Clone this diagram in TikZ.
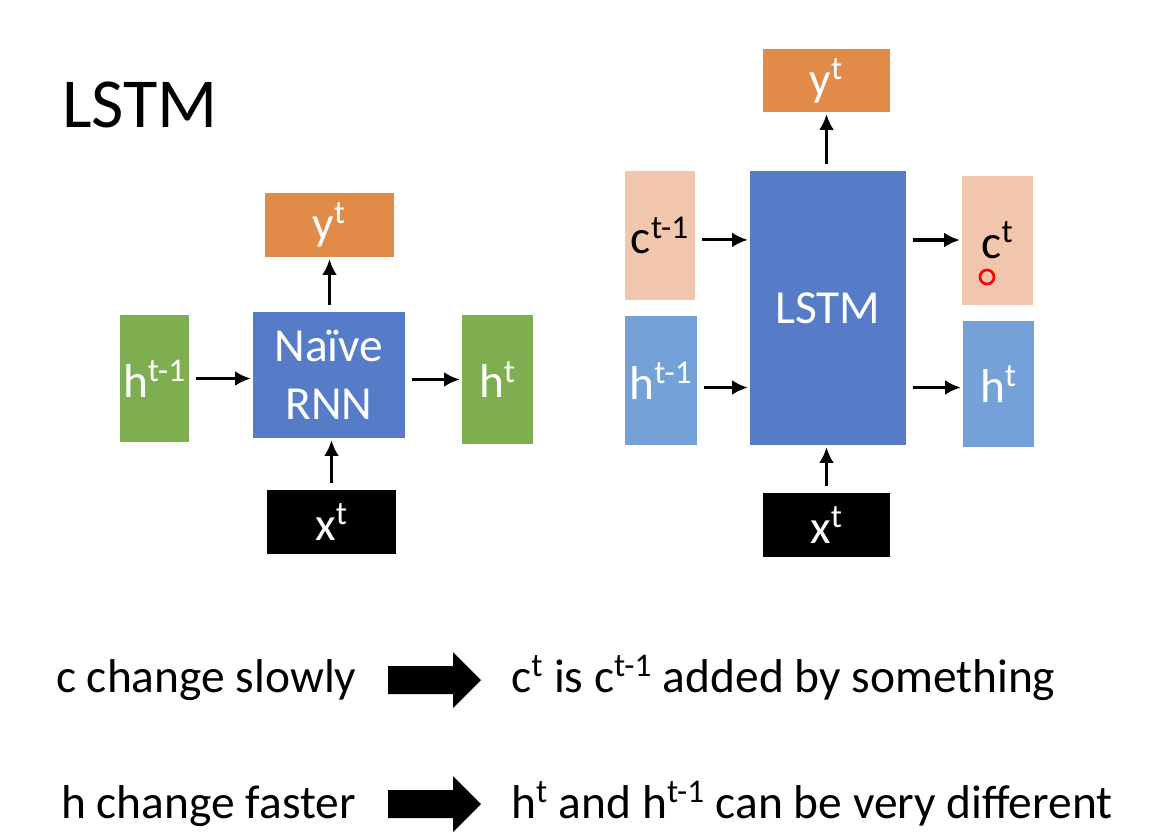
\documentclass[tikz,border=0pt]{standalone}
\usepackage{fontspec}
\setmainfont{Carlito}
\usepackage{tikz}
\usetikzlibrary{arrows.meta}

\definecolor{outorange}{RGB}{226,138,72}
\definecolor{cellblue}{RGB}{86,124,200}
\definecolor{hgreen}{RGB}{126,174,80}
\definecolor{cpeach}{RGB}{242,198,172}
\definecolor{hblue}{RGB}{116,162,216}

\newcommand{\sups}[1]{\textsuperscript{#1}}

\tikzset{
  box/.style={inner sep=0pt, align=center, text=white,
    font=\fontsize{27}{33}\selectfont},
  boxsize/.style 2 args={minimum width=#1*0.02cm, minimum height=#2*0.02cm},
  arr/.style={-{Latex[length=9pt,width=8.5pt]}, line width=1.8pt,
    shorten <=4pt, shorten >=1pt},
  says/.style={anchor=base west, font=\fontsize{27}{33}\selectfont},
  fat/.style={fill=black}
}

\begin{document}
\begin{tikzpicture}[x=0.02cm,y=-0.02cm]
\useasboundingbox (0,0) rectangle (1162,832);

\node[anchor=base west, font=\fontsize{40}{46}\selectfont] (title) at (56,127) {LSTM};

% naive rnn
\node[box, boxsize={129}{64}, fill=outorange] (yL) at (329.5,225) {y\sups{t}};
\node[box, boxsize={152}{126}, fill=cellblue] (rnn) at (329,375) {Naïve\\RNN};
\node[box, boxsize={69}{127}, fill=hgreen] (hpL) at (154.5,378.5) {h\sups{t-1}};
\node[box, boxsize={71}{129}, fill=hgreen] (hL) at (497.5,379.5) {h\sups{t}};
\node[box, boxsize={129}{64}, fill=black] (xL) at (331.5,522) {x\sups{t}};

\draw[arr] (hpL.east) -- (rnn.west |- hpL.east);
\draw[arr] (rnn.east |- hL.west) -- (hL.west);
\draw[arr] (rnn.north -| yL.south) -- (yL.south);
\draw[arr] (xL.north) -- (rnn.south -| xL.north);

% lstm
\node[box, boxsize={127}{63}, fill=outorange] (yR) at (826.5,80.5) {y\sups{t}};
\node[box, boxsize={156}{274}, fill=cellblue] (lstm) at (828,308) {LSTM};
\node[box, boxsize={70}{129}, fill=cpeach, text=black] (cpR) at (660,235.5) {c\sups{t-1}};
\node[box, boxsize={72}{129}, fill=hblue] (hpR) at (661,380.5) {h\sups{t-1}};
\node[box, boxsize={71}{129}, fill=cpeach, text=black] (cR) at (997.5,240) {c\sups{t}};
\node[box, boxsize={71}{126}, fill=hblue] (hR) at (998.5,384) {h\sups{t}};
\node[box, boxsize={127}{64}, fill=black] (xR) at (826.5,525) {x\sups{t}};
\node[draw=red, circle, line width=1.5pt, minimum size=8pt, inner sep=0pt] (redmark) at (987,277) {};

\draw[arr] ([yshift=-2.5pt]cpR.east) -- ([yshift=-2.5pt]lstm.west |- cpR.east);
\draw[arr] ([yshift=-4pt]hpR.east) -- ([yshift=-4pt]lstm.west |- hpR.east);
\draw[arr] (lstm.east |- cR.west) -- (cR.west);
\draw[arr] ([yshift=-2pt]lstm.east |- hR.west) -- ([yshift=-2pt]hR.west);
\draw[arr] (lstm.north -| yR.south) -- (yR.south);
\draw[arr] (xR.north) -- (lstm.south -| xR.north);

% bottom lines
\node[says] (cslow) at (50,692) {c change slowly};
\node[says] (cadd) at (505,692) {c\sups{t} is c\sups{t-1} added by something};
\node[says] (hfast) at (55,818) {h change faster};
\node[says] (hdiff) at (505,818) {h\sups{t} and h\sups{t-1} can be very different};

\foreach \y in {680,804} {
\fill[fat] (388,\y-14) -- (453,\y-14) -- (453,\y-28) -- (481,\y)
  -- (453,\y+28) -- (453,\y+14) -- (388,\y+14) -- cycle;
}

\end{tikzpicture}
\end{document}
